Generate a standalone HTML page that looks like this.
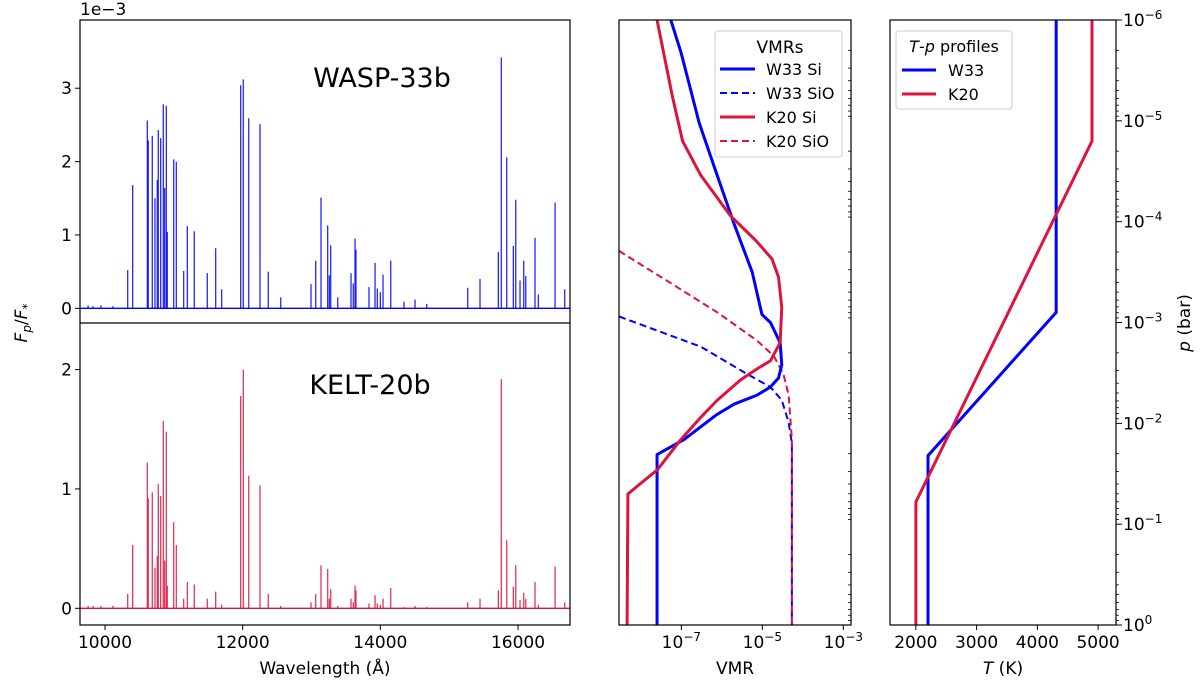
<!DOCTYPE html>
<html><head><meta charset="utf-8"><style>
body{margin:0;background:#fff;}
svg{display:block;font-family:"DejaVu Sans","Liberation Sans",sans-serif;}
</style></head><body>
<svg id="fig" width="1200" height="685" viewBox="0 0 1200 685" xmlns="http://www.w3.org/2000/svg"></svg>
<script>
// ---- spectrum data ----
const wavelengths=[9755,9826,9942,10116,10330,10402,10615,10629,10687,10726,10760,10774,10809,10847,10867,10891,10905,10998,11036,11143,11196,11297,11486,11608,11695,11971,12009,12088,12252,12372,12553,12993,13061,13138,13235,13259,13279,13381,13574,13607,13632,13646,13835,13923,13956,14000,14039,14151,14344,14504,14674,15269,15448,15714,15757,15836,15932,15967,16029,16083,16112,16247,16295,16538,16678];
const w33Flux=[0.04,0.03,0.04,0.03,0.52,1.68,2.56,2.29,2.35,1.50,1.75,2.43,2.32,2.78,1.64,2.76,1.04,2.03,2.00,0.51,1.12,1.05,0.48,0.82,0.26,3.04,3.12,2.59,2.51,0.50,0.15,0.33,0.65,1.51,1.13,0.45,0.86,0.15,0.48,0.34,0.95,0.80,0.29,0.62,0.27,0.22,0.46,0.65,0.09,0.12,0.06,0.28,0.40,0.77,3.42,2.06,0.85,1.48,0.38,0.65,0.44,0.96,0.19,1.44,0.26];
const k20Flux=[0.02,0.02,0.02,0.02,0.12,0.53,1.22,0.92,0.97,0.34,0.44,1.04,0.94,1.57,0.40,1.48,0.19,0.72,0.53,0.08,0.22,0.20,0.08,0.14,0.03,1.78,2.00,1.11,1.03,0.12,0.02,0.05,0.12,0.36,0.33,0.08,0.16,0.02,0.08,0.05,0.19,0.15,0.04,0.11,0.04,0.03,0.08,0.17,0.01,0.02,0.01,0.05,0.08,0.15,1.92,0.57,0.18,0.36,0.07,0.13,0.08,0.22,0.03,0.35,0.05];
const wlTicks=[10000,12000,14000,16000];
const topTicks=[0,1,2,3];
const botTicks=[0,1,2];
// ---- VMR profiles (log10 VMR, log10 p) ----
const w33SiV=[-7.26,-7.01,-6.81,-6.56,-6.15,-5.70,-5.25,-5.01,-4.80,-4.56,-4.52,-4.60,-4.80,-5.13,-5.70,-6.15,-6.93,-7.60,-7.60];
const w33SiP=[-6,-5.68,-5.37,-4.98,-4.50,-3.98,-3.50,-3.08,-3.00,-2.80,-2.58,-2.45,-2.36,-2.28,-2.19,-2.08,-1.84,-1.69,0];
const k20SiV=[-7.60,-7.46,-7.22,-6.97,-6.52,-5.79,-5.13,-4.76,-4.60,-4.52,-4.56,-4.80,-5.13,-5.54,-6.11,-6.52,-7.01,-7.59,-8.32,-8.34];
const k20SiP=[-6,-5.72,-5.24,-4.80,-4.46,-4.06,-3.80,-3.63,-3.45,-3.15,-2.80,-2.62,-2.54,-2.43,-2.23,-2.06,-1.84,-1.54,-1.30,0];
const w33SiOV=[-8.54,-6.52,-5.38,-4.80,-4.52,-4.35,-4.27,-4.27];
const w33SiOP=[-3.06,-2.76,-2.49,-2.36,-2.23,-2.01,-1.80,0];
const k20SiOV=[-8.54,-7.34,-6.11,-5.13,-4.72,-4.48,-4.35,-4.27,-4.27];
const k20SiOP=[-3.71,-3.41,-3.10,-2.82,-2.67,-2.49,-2.28,-1.84,0];
const vmrTicks=[-7,-5,-3];
// ---- T-p profiles ----
const w33T=[4310,4310,2200,2200];
const w33TP=[-6,-3.10,-1.68,0];
const k20T=[4900,4900,2000,2000];
const k20TP=[-6,-4.80,-1.22,0];
const tTicks=[2000,3000,4000,5000];
const pTicks=[-6,-5,-4,-3,-2,-1,0];

const NS="http://www.w3.org/2000/svg";
const svg=document.getElementById('fig');
function el(tag,attrs,parent){const e=document.createElementNS(NS,tag);for(const k in attrs)e.setAttribute(k,attrs[k]);(parent||svg).appendChild(e);return e;}
function txt(s,attrs,parent){const e=el('text',attrs,parent);e.textContent=s;return e;}
const BLUE='#0000ff',RED='#dc143c';
const FS=17;

const L={x0:80,x1:570,w0:9637,w1:16755};
const xw=w=>L.x0+(w-L.w0)/(L.w1-L.w0)*(L.x1-L.x0);
const T={y0:20,y1:323,v0:3.93,v1:-0.2};
const yt=v=>T.y0+(T.v0-v)/(T.v0-T.v1)*(T.y1-T.y0);
const B={y0:323,y1:625,v0:2.39,v1:-0.14};
const yb=v=>B.y0+(B.v0-v)/(B.v0-B.v1)*(B.y1-B.y0);
const yp=lp=>20+(lp+6)/6*605;
const M={x0:619,x1:851,v0:-8.54,v1:-2.81};
const xv=v=>M.x0+(v-M.v0)/(M.v1-M.v0)*(M.x1-M.x0);
const R={x0:890,x1:1116,t0:1574,t1:5295};
const xT=t=>R.x0+(t-R.t0)/(R.t1-R.t0)*(R.x1-R.x0);

const gTop=el('g',{});
wavelengths.forEach((w,i)=>{const l=el('line',{x1:xw(w),x2:xw(w),y1:yt(0),y2:yt(w33Flux[i]),stroke:BLUE,'stroke-width':1.3,'stroke-opacity':0.85},gTop);

});
el('line',{x1:L.x0,x2:L.x1,y1:yt(0),y2:yt(0),stroke:BLUE,'stroke-width':1.3},gTop);
const gBot=el('g',{});
wavelengths.forEach((w,i)=>{const l=el('line',{x1:xw(w),x2:xw(w),y1:yb(0),y2:yb(k20Flux[i]),stroke:RED,'stroke-width':1.3,'stroke-opacity':0.85},gBot);

});
el('line',{x1:L.x0,x2:L.x1,y1:yb(0),y2:yb(0),stroke:RED,'stroke-width':1.3},gBot);
el('rect',{x:L.x0,y:20,width:L.x1-L.x0,height:605,fill:'none',stroke:'#000','stroke-width':1.2,});
el('line',{x1:L.x0,x2:L.x1,y1:323,y2:323,stroke:'#000','stroke-width':1.2});
topTicks.forEach(v=>{el('line',{x1:L.x0-5,x2:L.x0,y1:yt(v),y2:yt(v),stroke:'#000'});txt(String(v),{x:72,y:yt(v)+6,'font-size':FS,'text-anchor':'end'});});
botTicks.forEach(v=>{el('line',{x1:L.x0-5,x2:L.x0,y1:yb(v),y2:yb(v),stroke:'#000'});txt(String(v),{x:72,y:yb(v)+6,'font-size':FS,'text-anchor':'end'});});
wlTicks.forEach(w=>{el('line',{x1:xw(w),x2:xw(w),y1:625,y2:630,stroke:'#000'});txt(String(w),{x:xw(w),y:648,'font-size':FS,'text-anchor':'middle'});});
txt('1e\u22123',{x:80,y:15,'font-size':FS,});
txt('WASP-33b',{x:382,y:87,'font-size':27,'text-anchor':'middle',});
txt('KELT-20b',{x:370,y:394,'font-size':27,'text-anchor':'middle',});
txt('Wavelength (Å)',{x:325,y:674,'font-size':FS,'text-anchor':'middle',});
const yl=txt('',{transform:'translate(27,323) rotate(-90)','font-size':FS,'text-anchor':'middle',});
yl.innerHTML='<tspan font-style="italic">F</tspan><tspan font-size="12" dy="4" font-style="italic">p</tspan><tspan dy="-4">/</tspan><tspan font-style="italic">F</tspan><tspan font-size="12" dy="4">*</tspan>';

function logMinor(x,dir,len){for(let d=-6;d<0;d++){for(let m=2;m<10;m++){const y=yp(d+Math.log10(m));el('line',{x1:x,x2:x+dir*len,y1:y,y2:y,stroke:'#000','stroke-width':0.8});}}}

const clipM=el('clipPath',{id:'cm'});el('rect',{x:M.x0,y:20,width:M.x1-M.x0,height:605},clipM);
const gM=el('g',{'clip-path':'url(#cm)',});
function pl(vs,ps,fx,color,dash,name){const pts=vs.map((v,i)=>fx(v)+','+yp(ps[i])).join(' ');const e=el('polyline',{points:pts,fill:'none',stroke:color,'stroke-width':dash?2:3,'stroke-dasharray':dash?'7,4':'none','stroke-linejoin':'round'},gM);return e;}
pl(w33SiOV,w33SiOP,xv,BLUE,true,'w33-sio-line');
pl(k20SiOV,k20SiOP,xv,RED,true,'k20-sio-line');
pl(w33SiV,w33SiP,xv,BLUE,false,'w33-si-line');
pl(k20SiV,k20SiP,xv,RED,false,'k20-si-line');
el('rect',{x:M.x0,y:20,width:M.x1-M.x0,height:605,fill:'none',stroke:'#000','stroke-width':1.2,});
logMinor(M.x1,-1,3);
vmrTicks.forEach(v=>{el('line',{x1:xv(v),x2:xv(v),y1:625,y2:630,stroke:'#000'});const t=txt('',{x:xv(v),y:648,'font-size':FS,'text-anchor':'middle'});t.innerHTML='10<tspan dy="-7" font-size="12">\u2212'+(-v)+'</tspan>';});
txt('VMR',{x:735,y:674,'font-size':FS,'text-anchor':'middle',});
const lg=el('g',{});
el('rect',{x:715,y:31,width:127,height:126,rx:3,fill:'#fff','fill-opacity':0.85,stroke:'#ccc'},lg);
txt('VMRs',{x:780,y:53,'font-size':FS,'text-anchor':'middle'},lg);
[['W33 Si',BLUE,false],['W33 SiO',BLUE,true],['K20 Si',RED,false],['K20 SiO',RED,true]].forEach((e,i)=>{const y=69+i*24;
el('line',{x1:720,x2:755,y1:y,y2:y,stroke:e[1],'stroke-width':e[2]?2:3,'stroke-dasharray':e[2]?'7,4':'none'},lg);
txt(e[0],{x:766,y:y+6,'font-size':16},lg);});

const clipR=el('clipPath',{id:'cr'});el('rect',{x:R.x0,y:20,width:R.x1-R.x0,height:605},clipR);
const gR=el('g',{'clip-path':'url(#cr)',});
function plR(ts,ps,color,name){const e=el('polyline',{points:ts.map((t,i)=>xT(t)+','+yp(ps[i])).join(' '),fill:'none',stroke:color,'stroke-width':3},gR);}
plR(w33T,w33TP,BLUE,'w33-tp-line');
plR(k20T,k20TP,RED,'k20-tp-line');
el('rect',{x:R.x0,y:20,width:R.x1-R.x0,height:605,fill:'none',stroke:'#000','stroke-width':1.2,});
logMinor(R.x1,1,3);
pTicks.forEach(p=>{el('line',{x1:R.x1,x2:R.x1+6,y1:yp(p),y2:yp(p),stroke:'#000'});const t=txt('',{x:1123,y:yp(p)+6,'font-size':FS});t.innerHTML=p===0?'10<tspan dy="-7" font-size="12">0</tspan>':'10<tspan dy="-7" font-size="12">\u2212'+(-p)+'</tspan>';});
tTicks.forEach(t=>{el('line',{x1:xT(t),x2:xT(t),y1:625,y2:630,stroke:'#000'});txt(String(t),{x:xT(t),y:648,'font-size':FS,'text-anchor':'middle'});});
const tl=txt('',{x:1003,y:674,'font-size':FS,'text-anchor':'middle',});tl.innerHTML='<tspan font-style="italic">T</tspan> (K)';
const pl2=txt('',{transform:'translate(1190,323) rotate(-90)','font-size':FS,'text-anchor':'middle',});pl2.innerHTML='<tspan font-style="italic">p</tspan> (bar)';
const lg2=el('g',{});
el('rect',{x:896,y:31,width:116,height:78,rx:3,fill:'#fff','fill-opacity':0.85,stroke:'#ccc'},lg2);
const lt=txt('',{x:954,y:52,'font-size':16,'text-anchor':'middle'},lg2);lt.innerHTML='<tspan font-style="italic">T</tspan>-<tspan font-style="italic">p</tspan> profiles';
[['W33',BLUE],['K20',RED]].forEach((e,i)=>{const y=70+i*24;el('line',{x1:902,x2:936,y1:y,y2:y,stroke:e[1],'stroke-width':3},lg2);txt(e[0],{x:948,y:y+6,'font-size':16},lg2);});
</script>
</body></html>
